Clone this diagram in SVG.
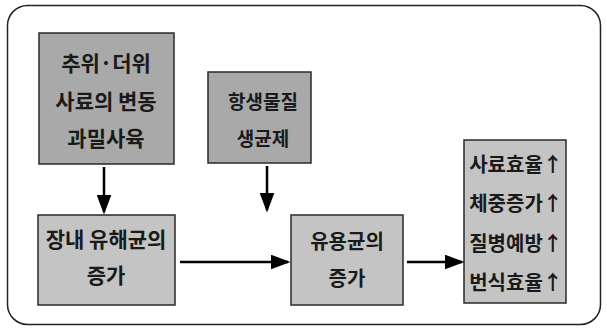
<svg xmlns="http://www.w3.org/2000/svg" width="607" height="331" viewBox="0 0 607 331">
<style>
.box{stroke:#2a2a2a;stroke-width:1.5}
.dark{fill:#a9a9a9}
.light{fill:#c4c4c4}
text{font-family:"Noto Sans CJK KR","Noto Sans",sans-serif;font-weight:bold;font-size:20px;fill:#1a1a1a;text-anchor:middle;dominant-baseline:central}
.big{font-size:21px}
.sm{font-size:19px}
.conn{stroke:#000;stroke-width:2.5;fill:none;marker-end:url(#ah)}
</style>
<defs>
<marker id="ah" markerWidth="8" markerHeight="6" refX="7" refY="3" orient="auto" markerUnits="strokeWidth">
<path d="M0,0 L8,3 L0,6 Z" fill="#000"/>
</marker>
</defs>
<rect x="7.5" y="5.5" width="593" height="319" rx="20" ry="20" fill="#fff" stroke="#222" stroke-width="1.5"/>
<g id="n1">
<rect class="box dark" x="39" y="33" width="135" height="131"/>
<text class="big" x="106" y="62">추위·더위</text>
<text class="big" x="106" y="100">사료의 변동</text>
<text class="big" x="106" y="137">과밀사육</text>
</g>
<g id="n2">
<rect class="box dark" x="208" y="72" width="103" height="91"/>
<text class="sm" x="263" y="100">항생물질</text>
<text class="sm" x="263" y="137">생균제</text>
</g>
<g id="n3">
<rect class="box light" x="38" y="215" width="137" height="90"/>
<text class="big" x="106" y="238">장내 유해균의</text>
<text class="big" x="106" y="274">증가</text>
</g>
<g id="n4">
<rect class="box light" x="291" y="215" width="112" height="90"/>
<text x="347" y="240">유용균의</text>
<text x="347" y="277">증가</text>
</g>
<g id="n5">
<rect class="box light" x="464" y="140" width="102" height="163"/>
<text x="516" y="163">사료효율↑</text>
<text x="516" y="202">체중증가↑</text>
<text x="516" y="242">질병예방↑</text>
<text x="516" y="281">번식효율↑</text>
</g>
<g id="connectors">
<line class="conn" x1="104" y1="167" x2="104" y2="212"/>
<line class="conn" x1="267" y1="166" x2="267" y2="210"/>
<line class="conn" x1="180" y1="262" x2="288" y2="262"/>
<line class="conn" x1="407" y1="262" x2="462" y2="262"/>
</g>
</svg>
